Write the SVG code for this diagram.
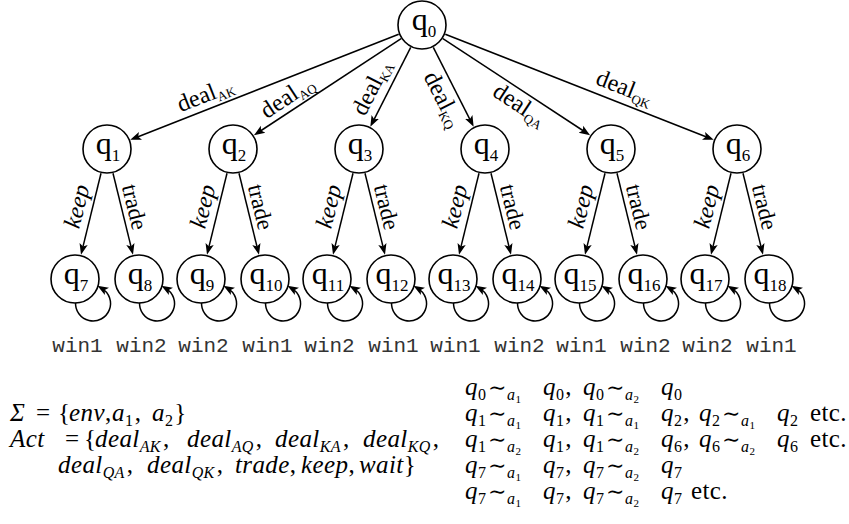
<svg xmlns="http://www.w3.org/2000/svg" width="849" height="524" viewBox="0 0 849 524">
<style>
.nd circle{fill:#fff;stroke:#000;stroke-width:1.6}
.nl{font-family:"Liberation Serif","Times New Roman",serif;font-size:32px;text-anchor:middle;fill:#000}
.nl tspan{font-size:17px}
.e path{stroke:#000;stroke-width:1.5;fill:none;marker-end:url(#ah)}
.el{font-family:"Liberation Serif","Times New Roman",serif;font-size:24px;text-anchor:middle;fill:#000}
.sb{font-size:13px}
.kp{font-style:italic;font-size:24px}
.td{font-size:23px}
.w{font-family:"Liberation Mono","Courier New",monospace;font-size:21px;text-anchor:middle;fill:#333}
.m{font-family:"Liberation Serif","DejaVu Serif",serif;font-size:25px;fill:#000;letter-spacing:0.4px}
.m .i{font-style:italic}
.m .s{font-size:16px}
.m .ss{font-size:11px}
.m .op{font-family:"DejaVu Serif","Liberation Serif",serif;font-size:22px}
</style>
<defs>
<marker id="ah" markerUnits="userSpaceOnUse" markerWidth="12" markerHeight="10" viewBox="0 0 12 10" refX="6" refY="5" orient="auto"><path d="M0,0.8 L11,5 L0,9.2 L2.5,5 z" fill="#000"/></marker>
</defs>

<g id="edges" class="e">
<path d="M398.7,34.2 L134.9,138"/>
<path d="M401.1,38.7 L258.1,132.5"/>
<path d="M410.7,47.3 L372.6,122.3"/>
<path d="M433.3,47.3 L471.4,122.3"/>
<path d="M442.9,38.7 L585.9,132.5"/>
<path d="M445.3,34.2 L709.1,138"/>
<path d="M101,173.3 L82.2,249.9"/><path d="M113,173.3 L131.8,249.9"/>
<path d="M227,173.3 L208.2,249.9"/><path d="M239,173.3 L257.8,249.9"/>
<path d="M353,173.3 L334.2,249.9"/><path d="M365,173.3 L383.8,249.9"/>
<path d="M479,173.3 L460.2,249.9"/><path d="M491,173.3 L509.8,249.9"/>
<path d="M605,173.3 L586.2,249.9"/><path d="M617,173.3 L635.8,249.9"/>
<path d="M731,173.3 L712.2,249.9"/><path d="M743,173.3 L761.8,249.9"/>
<path d="M75.6,302 A17.5 17.5 0 1 0 101.75,288.3"/>
<path d="M139.6,302 A17.5 17.5 0 1 0 165.75,288.3"/>
<path d="M201.6,302 A17.5 17.5 0 1 0 227.75,288.3"/>
<path d="M265.6,302 A17.5 17.5 0 1 0 291.75,288.3"/>
<path d="M327.6,302 A17.5 17.5 0 1 0 353.75,288.3"/>
<path d="M391.6,302 A17.5 17.5 0 1 0 417.75,288.3"/>
<path d="M453.6,302 A17.5 17.5 0 1 0 479.75,288.3"/>
<path d="M517.6,302 A17.5 17.5 0 1 0 543.75,288.3"/>
<path d="M579.6,302 A17.5 17.5 0 1 0 605.75,288.3"/>
<path d="M643.6,302 A17.5 17.5 0 1 0 669.75,288.3"/>
<path d="M705.6,302 A17.5 17.5 0 1 0 731.75,288.3"/>
<path d="M769.6,302 A17.5 17.5 0 1 0 795.75,288.3"/>
</g>

<g id="edge-labels" class="el">
<text transform="translate(205.8,96) rotate(-21.49)" y="6">deal<tspan class="sb" dy="4">AK</tspan></text>
<text transform="translate(288,98) rotate(-33.27)" y="6">deal<tspan class="sb" dy="4">AQ</tspan></text>
<text transform="translate(373,88) rotate(-63.07)" y="6">deal<tspan class="sb" dy="4">KA</tspan></text>
<text transform="translate(442,100) rotate(63.07)" y="6">deal<tspan class="sb" dy="4">KQ</tspan></text>
<text transform="translate(519,106) rotate(33.27)" y="6">deal<tspan class="sb" dy="4">QA</tspan></text>
<text transform="translate(624,89) rotate(21.49)" y="6">deal<tspan class="sb" dy="4">QK</tspan></text>
<text class="kp" transform="translate(79.5,207) rotate(-76.17)" y="5">keep</text>
<text class="td" transform="translate(134.5,207) rotate(76.17)" y="7.5">trade</text>
<text class="kp" transform="translate(205.5,207) rotate(-76.17)" y="5">keep</text>
<text class="td" transform="translate(260.5,207) rotate(76.17)" y="7.5">trade</text>
<text class="kp" transform="translate(331.5,207) rotate(-76.17)" y="5">keep</text>
<text class="td" transform="translate(386.5,207) rotate(76.17)" y="7.5">trade</text>
<text class="kp" transform="translate(457.5,207) rotate(-76.17)" y="5">keep</text>
<text class="td" transform="translate(512.5,207) rotate(76.17)" y="7.5">trade</text>
<text class="kp" transform="translate(583.5,207) rotate(-76.17)" y="5">keep</text>
<text class="td" transform="translate(638.5,207) rotate(76.17)" y="7.5">trade</text>
<text class="kp" transform="translate(709.5,207) rotate(-76.17)" y="5">keep</text>
<text class="td" transform="translate(764.5,207) rotate(76.17)" y="7.5">trade</text>
</g>

<g id="q0" class="nd"><circle cx="422" cy="25" r="24"/><text class="nl" x="424" y="30">q<tspan dy="7">0</tspan></text></g>
<g id="q1" class="nd"><circle cx="107" cy="149" r="24"/><text class="nl" x="108" y="154">q<tspan dy="7">1</tspan></text></g>
<g id="q2" class="nd"><circle cx="233" cy="149" r="24"/><text class="nl" x="234" y="154">q<tspan dy="7">2</tspan></text></g>
<g id="q3" class="nd"><circle cx="359" cy="149" r="24"/><text class="nl" x="360" y="154">q<tspan dy="7">3</tspan></text></g>
<g id="q4" class="nd"><circle cx="485" cy="149" r="24"/><text class="nl" x="486" y="154">q<tspan dy="7">4</tspan></text></g>
<g id="q5" class="nd"><circle cx="611" cy="149" r="24"/><text class="nl" x="612" y="154">q<tspan dy="7">5</tspan></text></g>
<g id="q6" class="nd"><circle cx="737" cy="149" r="24"/><text class="nl" x="738" y="154">q<tspan dy="7">6</tspan></text></g>
<g id="q7" class="nd"><circle cx="75" cy="279" r="24"/><text class="nl" x="76" y="284">q<tspan dy="7">7</tspan></text></g>
<g id="q8" class="nd"><circle cx="139" cy="279" r="24"/><text class="nl" x="140" y="284">q<tspan dy="7">8</tspan></text></g>
<g id="q9" class="nd"><circle cx="201" cy="279" r="24"/><text class="nl" x="202" y="284">q<tspan dy="7">9</tspan></text></g>
<g id="q10" class="nd"><circle cx="265" cy="279" r="24"/><text class="nl" x="266" y="284">q<tspan dy="7">10</tspan></text></g>
<g id="q11" class="nd"><circle cx="327" cy="279" r="24"/><text class="nl" x="328" y="284">q<tspan dy="7">11</tspan></text></g>
<g id="q12" class="nd"><circle cx="391" cy="279" r="24"/><text class="nl" x="392" y="284">q<tspan dy="7">12</tspan></text></g>
<g id="q13" class="nd"><circle cx="453" cy="279" r="24"/><text class="nl" x="454" y="284">q<tspan dy="7">13</tspan></text></g>
<g id="q14" class="nd"><circle cx="517" cy="279" r="24"/><text class="nl" x="518" y="284">q<tspan dy="7">14</tspan></text></g>
<g id="q15" class="nd"><circle cx="579" cy="279" r="24"/><text class="nl" x="580" y="284">q<tspan dy="7">15</tspan></text></g>
<g id="q16" class="nd"><circle cx="643" cy="279" r="24"/><text class="nl" x="644" y="284">q<tspan dy="7">16</tspan></text></g>
<g id="q17" class="nd"><circle cx="705" cy="279" r="24"/><text class="nl" x="706" y="284">q<tspan dy="7">17</tspan></text></g>
<g id="q18" class="nd"><circle cx="769" cy="279" r="24"/><text class="nl" x="770" y="284">q<tspan dy="7">18</tspan></text></g>

<g id="outcomes" class="w">
<text x="77.5" y="352">win1</text>
<text x="141.5" y="352">win2</text>
<text x="203.5" y="352">win2</text>
<text x="267.5" y="352">win1</text>
<text x="329.5" y="352">win2</text>
<text x="393.5" y="352">win1</text>
<text x="455.5" y="352">win1</text>
<text x="519.5" y="352">win2</text>
<text x="581.5" y="352">win1</text>
<text x="645.5" y="352">win2</text>
<text x="707.5" y="352">win2</text>
<text x="771.5" y="352">win1</text>
</g>

<g id="definitions">
<text class="m" y="421"><tspan x="10" class="i">Σ</tspan><tspan x="36">=</tspan><tspan x="58">{</tspan><tspan x="69" class="i">env</tspan><tspan>,</tspan><tspan x="112" class="i">a</tspan><tspan class="s" dy="5">1</tspan><tspan dy="-5" dx="1.5">,</tspan><tspan x="152" class="i">a</tspan><tspan class="s" dy="5">2</tspan><tspan dy="-5" dx="1">}</tspan></text>
<text class="m" y="447"><tspan x="10" class="i">Act</tspan><tspan x="65">=</tspan><tspan x="84">{</tspan><tspan x="95" class="i">deal</tspan><tspan class="s i" dy="5">AK</tspan><tspan dy="-5" dx="2">,</tspan><tspan x="187" class="i">deal</tspan><tspan class="s i" dy="5">AQ</tspan><tspan dy="-5" dx="2">,</tspan><tspan x="275" class="i">deal</tspan><tspan class="s i" dy="5">KA</tspan><tspan dy="-5" dx="2">,</tspan><tspan x="363" class="i">deal</tspan><tspan class="s i" dy="5">KQ</tspan><tspan dy="-5" dx="2">,</tspan></text>
<text class="m" y="473"><tspan x="58" class="i">deal</tspan><tspan class="s i" dy="5">QA</tspan><tspan dy="-5" dx="2">,</tspan><tspan x="147" class="i">deal</tspan><tspan class="s i" dy="5">QK</tspan><tspan dy="-5" dx="2">,</tspan><tspan x="235" class="i">trade</tspan><tspan>,</tspan><tspan x="301" class="i">keep</tspan><tspan>,</tspan><tspan x="359" class="i">wait</tspan><tspan>}</tspan></text>
</g>

<g id="indistinguishability">
<text class="m" y="395"><tspan x="465" class="i">q</tspan><tspan class="s" dy="5">0</tspan><tspan x="488" dy="-5" class="op">∼</tspan><tspan x="507" dy="5" class="i s">a</tspan><tspan class="ss" dy="3">1</tspan><tspan x="543" dy="-8" class="i">q</tspan><tspan class="s" dy="5">0</tspan><tspan dy="-5" dx="1">,</tspan><tspan x="583" class="i">q</tspan><tspan class="s" dy="5">0</tspan><tspan x="606" dy="-5" class="op">∼</tspan><tspan x="625" dy="5" class="i s">a</tspan><tspan class="ss" dy="3">2</tspan><tspan x="661" dy="-8" class="i">q</tspan><tspan class="s" dy="5">0</tspan></text>
<text class="m" y="421"><tspan x="465" class="i">q</tspan><tspan class="s" dy="5">1</tspan><tspan x="488" dy="-5" class="op">∼</tspan><tspan x="507" dy="5" class="i s">a</tspan><tspan class="ss" dy="3">1</tspan><tspan x="543" dy="-8" class="i">q</tspan><tspan class="s" dy="5">1</tspan><tspan dy="-5" dx="1">,</tspan><tspan x="583" class="i">q</tspan><tspan class="s" dy="5">1</tspan><tspan x="606" dy="-5" class="op">∼</tspan><tspan x="625" dy="5" class="i s">a</tspan><tspan class="ss" dy="3">1</tspan><tspan x="661" dy="-8" class="i">q</tspan><tspan class="s" dy="5">2</tspan><tspan dy="-5" dx="1">,</tspan><tspan x="699" class="i">q</tspan><tspan class="s" dy="5">2</tspan><tspan x="722" dy="-5" class="op">∼</tspan><tspan x="741" dy="5" class="i s">a</tspan><tspan class="ss" dy="3">1</tspan><tspan x="777" dy="-8" class="i">q</tspan><tspan class="s" dy="5">2</tspan><tspan x="810" dy="-5">etc.</tspan></text>
<text class="m" y="447"><tspan x="465" class="i">q</tspan><tspan class="s" dy="5">1</tspan><tspan x="488" dy="-5" class="op">∼</tspan><tspan x="507" dy="5" class="i s">a</tspan><tspan class="ss" dy="3">2</tspan><tspan x="543" dy="-8" class="i">q</tspan><tspan class="s" dy="5">1</tspan><tspan dy="-5" dx="1">,</tspan><tspan x="583" class="i">q</tspan><tspan class="s" dy="5">1</tspan><tspan x="606" dy="-5" class="op">∼</tspan><tspan x="625" dy="5" class="i s">a</tspan><tspan class="ss" dy="3">2</tspan><tspan x="661" dy="-8" class="i">q</tspan><tspan class="s" dy="5">6</tspan><tspan dy="-5" dx="1">,</tspan><tspan x="699" class="i">q</tspan><tspan class="s" dy="5">6</tspan><tspan x="722" dy="-5" class="op">∼</tspan><tspan x="741" dy="5" class="i s">a</tspan><tspan class="ss" dy="3">2</tspan><tspan x="777" dy="-8" class="i">q</tspan><tspan class="s" dy="5">6</tspan><tspan x="810" dy="-5">etc.</tspan></text>
<text class="m" y="473"><tspan x="465" class="i">q</tspan><tspan class="s" dy="5">7</tspan><tspan x="488" dy="-5" class="op">∼</tspan><tspan x="507" dy="5" class="i s">a</tspan><tspan class="ss" dy="3">1</tspan><tspan x="543" dy="-8" class="i">q</tspan><tspan class="s" dy="5">7</tspan><tspan dy="-5" dx="1">,</tspan><tspan x="583" class="i">q</tspan><tspan class="s" dy="5">7</tspan><tspan x="606" dy="-5" class="op">∼</tspan><tspan x="625" dy="5" class="i s">a</tspan><tspan class="ss" dy="3">2</tspan><tspan x="661" dy="-8" class="i">q</tspan><tspan class="s" dy="5">7</tspan></text>
<text class="m" y="499"><tspan x="465" class="i">q</tspan><tspan class="s" dy="5">7</tspan><tspan x="488" dy="-5" class="op">∼</tspan><tspan x="507" dy="5" class="i s">a</tspan><tspan class="ss" dy="3">1</tspan><tspan x="543" dy="-8" class="i">q</tspan><tspan class="s" dy="5">7</tspan><tspan dy="-5" dx="1">,</tspan><tspan x="583" class="i">q</tspan><tspan class="s" dy="5">7</tspan><tspan x="606" dy="-5" class="op">∼</tspan><tspan x="625" dy="5" class="i s">a</tspan><tspan class="ss" dy="3">2</tspan><tspan x="661" dy="-8" class="i">q</tspan><tspan class="s" dy="5">7</tspan><tspan x="691" dy="-5">etc.</tspan></text>
</g>
</svg>
